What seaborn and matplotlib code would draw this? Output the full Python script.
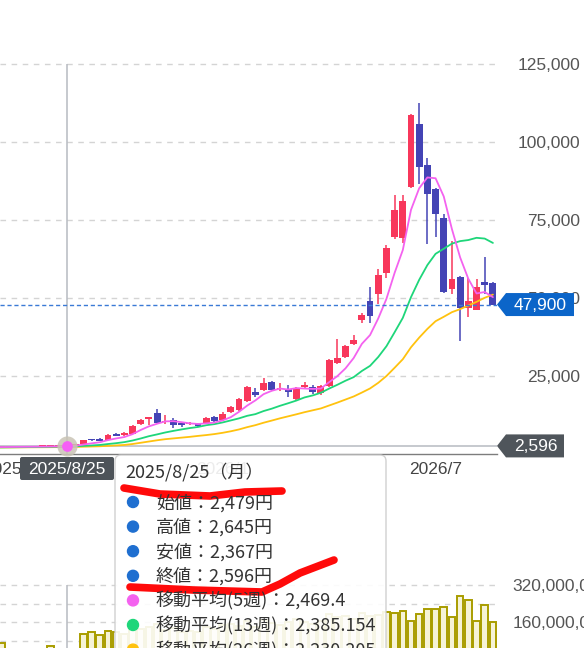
import numpy as np
import pandas as pd
import matplotlib
matplotlib.use("Agg")
import matplotlib.pyplot as plt
import seaborn as sns
from matplotlib.patches import FancyBboxPatch, Polygon, Circle

# weekly candles, week 0 = 2025/8/25
weeks = list(range(-9, 53))
opens = [2210, 2230, 2250, 2280, 2300, 2330, 2380, 2420, 2460,
         2479, 2600, 3200, 4600, 4800, 4500, 6400, 6000, 6400, 9600,
         11200, 13100, 10300, 10900, 9900, 9600, 9600, 9900, 11900, 10900,
         13500, 14100, 17000, 19900, 20500, 23100, 20800, 20800, 17600, 21500,
         21500, 19500, 21800, 29200, 31100, 35300, 42900, 49000, 51300, 58000,
         69500, 69200, 85600, 105800, 92600, 84900, 75600, 52900, 56700, 46800,
         46200, 55100, 54800]
highs = [2270, 2300, 2330, 2350, 2380, 2430, 2470, 2510, 2540,
         2645, 3300, 4600, 4800, 5000, 6300, 6600, 6900, 9200, 11100,
         12000, 14400, 12500, 11500, 10300, 10300, 9900, 11700, 12200, 13500,
         15400, 17900, 21800, 21100, 24400, 23400, 22800, 22100, 21500, 23100,
         22100, 22100, 30400, 36900, 35000, 38100, 45200, 53500, 59300, 67000,
         83000, 83000, 109000, 112500, 94900, 85200, 76900, 68300, 57000, 56400,
         56100, 63100, 55100]
lows = [2170, 2190, 2210, 2230, 2250, 2280, 2320, 2360, 2400,
        2367, 2550, 3150, 4300, 4100, 4400, 5700, 5900, 6300, 9300,
        9300, 9900, 9600, 8300, 8600, 9300, 8500, 9600, 10300, 10600,
        13100, 13800, 16700, 18300, 20200, 20200, 20200, 18300, 17300, 21200,
        19200, 18900, 21500, 28800, 30800, 35000, 42000, 42000, 48100, 56400,
        69000, 67600, 85300, 86500, 67300, 69500, 51600, 51300, 36200, 43900,
        46000, 51300, 47600]
closes = [2230, 2250, 2280, 2300, 2330, 2380, 2420, 2460, 2491,
          2596, 3200, 4400, 4400, 4200, 6100, 5800, 6700, 9000, 10900,
          11900, 10000, 10500, 9300, 9300, 10000, 9000, 11500, 10600, 12800,
          15100, 17600, 21500, 18900, 22800, 20500, 21200, 19900, 21200, 22100,
          19900, 21800, 30100, 30800, 34600, 36500, 44500, 44200, 57400, 66000,
          78200, 81100, 108600, 92000, 83300, 76900, 51900, 56100, 46800, 49000,
          53500, 54200, 47900]
ma5 = [2200, 2225, 2250, 2280, 2310, 2340, 2370, 2400, 2435,
       2469.4, 2633, 3029, 3417, 3759, 4460, 4980, 5440, 6360, 7700,
       8860, 9700, 10460, 10520, 10200, 9820, 9620, 9820, 10080, 10780,
       11800, 13520, 15520, 17180, 19180, 20260, 20980, 20660, 21120, 20980,
       20860, 20980, 23020, 24940, 27440, 30760, 35300, 38120, 43440, 49720,
       58060, 65380, 78260, 85180, 88640, 88380, 82540, 72040, 63000, 56140,
       51460, 51920, 50280]
ma13 = [2090, 2120, 2150, 2180, 2210, 2240, 2270, 2300, 2340,
        2385.154, 2460, 2600, 2740, 2901, 3197, 3467, 3806, 4319, 4974,
        5704, 6284, 6900, 7415, 7885, 8315, 8669, 9231, 9577, 10115,
        10762, 11423, 12238, 12777, 13762, 14531, 15446, 16262, 17123, 18131,
        18777, 19638, 20969, 22177, 23485, 24638, 26608, 28254, 31092, 34538,
        39023, 43631, 50285, 55831, 60562, 64162, 65785, 67438, 68231, 68577,
        69292, 69046, 67654]
ma26 = [2090, 2100, 2110, 2125, 2140, 2155, 2170, 2185, 2205,
        2230.205, 2270, 2340, 2410, 2480, 2620, 2750, 2900, 3200, 3600,
        4000, 4400, 4750, 5000, 5250, 5500, 5800, 6066, 6387, 6791,
        7284, 7871, 8606, 9240, 10023, 10715, 11431, 12073, 12719, 13400,
        14004, 14608, 15542, 16469, 17454, 18438, 19692, 21008, 22812, 24992,
        27642, 30377, 34208, 37304, 40100, 42565, 43981, 45462, 46435, 47592,
        48773, 50069, 51096]
# volume, millions
volume_m = [30, 69, 35, 25, 30, 20, 28, 56, 40,
            42, 45, 108, 117, 104, 121, 118, 110, 135, 128,
            140, 150, 125, 132, 118, 122, 115, 138, 128, 145,
            150, 142, 165, 140, 170, 155, 148, 160, 175, 158,
            150, 165, 195, 180, 188, 172, 200, 185, 190, 203,
            199, 207, 164, 194, 216, 216, 225, 181, 272, 255,
            164, 233, 160]

price_ticks = [25000, 50000, 75000, 100000, 125000]
date_ticks = [-7, 19, 45]
date_labels = ["2025/7", "2026/1", "2026/7"]
last_price = 47900
sel = 0  # hovered week (2025/8/25)
sel_label = "2025/8/25"

df = pd.DataFrame({"week": weeks, "open": opens, "high": highs, "low": lows,
                   "close": closes, "ma5": ma5, "ma13": ma13, "ma26": ma26,
                   "vol": np.array(volume_m) * 1e6})

sns.set_theme(style="white")
plt.rcParams['font.family'] = ['Liberation Sans', 'Noto Sans CJK JP', 'DejaVu Sans']
CJK = ['Noto Sans CJK JP', 'DejaVu Sans']

UP, DOWN = '#f8375b', '#4444b5'
C5, C13, C26 = '#f462ef', '#1ed67a', '#ffc20e'
GRID = '#d4d4d4'

W, H = 584, 648
fig = plt.figure(figsize=(W / 100, H / 100), dpi=100)

def frame(x0, y0, x1, y1):
    return [x0 / W, 1 - y1 / H, (x1 - x0) / W, (y1 - y0) / H]

XLIM = (-8.18, 52.5)

# price panel
ax = fig.add_axes(frame(0, 64, 497, 454))
ax.set_xlim(*XLIM)
ax.set_ylim(0, 125000)
for v in price_ticks:
    ax.axhline(v, color=GRID, lw=1, ls=(0, (4, 4)), zorder=0, clip_on=False)

ax.axvline(sel, color='#b6bac1', lw=1.1, zorder=1)
ax.axhline(df.close[df.week == sel].iloc[0], color='#b6bac1', lw=1.1, zorder=1)

up = df.close >= df.open
cols = np.where(up, UP, DOWN)
body_lo = df[['open', 'close']].min(axis=1)
body_h = (df.close - df.open).abs().clip(lower=350)
ax.vlines(df.week, df.low, df.high, colors=cols, lw=1.1, zorder=2)
ax.bar(df.week, body_h, bottom=body_lo, width=0.84, color=cols, lw=0, zorder=3)

sns.lineplot(data=df, x='week', y='ma26', color=C26, lw=1.3, ax=ax, zorder=4)
sns.lineplot(data=df, x='week', y='ma13', color=C13, lw=1.3, ax=ax, zorder=4)
sns.lineplot(data=df, x='week', y='ma5', color=C5, lw=1.3, ax=ax, zorder=4)

ax.axhline(last_price, color='#3a7ad6', lw=1, ls=(0, (3, 2)), zorder=5)
sel_close = df.close[df.week == sel].iloc[0]
ax.scatter([sel], [sel_close], s=210, color='#c9c4b5', alpha=0.85, lw=0, zorder=6, clip_on=False)
ax.scatter([sel], [sel_close], s=60, color='#f55ff5', lw=0, zorder=7, clip_on=False)

ax.set_xlabel('')
ax.set_ylabel('')
for s in ['top', 'left', 'right']:
    ax.spines[s].set_visible(False)
ax.spines['bottom'].set_color('#7d7d7d')
ax.spines['bottom'].set_linewidth(1)
ax.set_xticks(date_ticks)
ax.set_xticklabels(date_labels)
ax.tick_params(axis='x', length=0, pad=6, labelsize=12.5, labelcolor='#444444')
ax.yaxis.tick_right()
ax.set_yticks(price_ticks)
ax.set_yticklabels([f"{v:,}" for v in price_ticks])
ax.tick_params(axis='y', length=0, pad=60, labelsize=12.5, labelcolor='#555555')
for lab in ax.get_yticklabels():
    lab.set_horizontalalignment('right')

# volume panel
vax = fig.add_axes(frame(0, 585, 497, 659))
sns.barplot(data=df, x='week', y='vol', native_scale=True, width=0.8,
            color='#f6f3d6', edgecolor='#a99d00', linewidth=1.4, saturation=1,
            errorbar=None, ax=vax, zorder=2)
vax.set_xlim(*XLIM)
vax.set_ylim(0, 320e6)
for v in [80e6, 160e6, 240e6, 320e6]:
    vax.axhline(v, color=GRID, lw=1, ls=(0, (4, 4)), zorder=0, clip_on=False)
vax.axvline(sel, color='#b6bac1', lw=1.1, zorder=3)
vax.set_xlabel('')
vax.set_ylabel('')
for s in vax.spines.values():
    s.set_visible(False)
vax.set_xticks([])
vax.yaxis.tick_right()
vax.set_yticks([160e6, 320e6])
vax.set_yticklabels([f"{int(v):,}" for v in [160e6, 320e6]])
vax.tick_params(axis='y', length=0, pad=11, labelsize=12.5, labelcolor='#555555')

# overlay in pixel units
ov = fig.add_axes([0, 0, 1, 1])
ov.set_xlim(0, W)
ov.set_ylim(H, 0)
ov.axis('off')
ov.set_zorder(10)

def py(price):
    return H - ax.transData.transform((0, price))[1]

def px(week):
    return ax.transData.transform((week, 0))[0]

def price_tag(price, text, color, width):
    y = py(price)
    x0 = 497
    ov.add_patch(Polygon([(x0, y), (x0 + 9, y - 11.5), (x0 + width, y - 11.5),
                          (x0 + width, y + 11.5), (x0 + 9, y + 11.5)],
                         closed=True, fc=color, ec='none'))
    ov.text(x0 + 5 + width / 2, y + 0.5, text, color='white', ha='center', va='center', fontsize=12.5)

price_tag(last_price, f"{last_price:,}", '#0b65c9', 77)
price_tag(sel_close, f"{sel_close:,}", '#4f555b', 67)

cx = px(sel)
ov.add_patch(FancyBboxPatch((cx - 47, 457), 94, 23, boxstyle='round,pad=0,rounding_size=2',
                            fc='#4d5359', ec='none'))
ov.text(cx, 469, sel_label, color='white', ha='center', va='center', fontsize=12.5)

# tooltip
r = df[df.week == sel].iloc[0]
tip_rows = [f"始値：{int(r.open):,}円", f"高値：{int(r.high):,}円",
            f"安値：{int(r.low):,}円", f"終値：{int(r.close):,}円",
            f"移動平均(5週)：{r.ma5:,.1f}", f"移動平均(13週)：{r.ma13:,.3f}",
            f"移動平均(26週)：{r.ma26:,.3f}"]
tip_dots = ['#1f6fd0', '#1f6fd0', '#1f6fd0', '#1f6fd0', C5, C13, C26]

ov.add_patch(FancyBboxPatch((115, 455), 271, 230, boxstyle='round,pad=0,rounding_size=6',
                            fc='white', alpha=0.9, ec='#cccccc', lw=1))
ov.text(125, 472, "2025/8/25（月）", fontsize=13, color='#333333', va='center', family=CJK)
for i, (t, c) in enumerate(zip(tip_rows, tip_dots)):
    y = 503 + 24.6 * i
    ov.add_patch(Circle((133, y - 1), 5.5, color=c))
    ov.text(156, y, t, fontsize=13, color='#333333', va='center', family=CJK)

# red hand-drawn marks
ov.plot([124, 160, 210, 245, 282], [488, 494, 496, 492, 491], color='#ff0a0a', lw=5.5,
        solid_capstyle='round', solid_joinstyle='round')
ov.plot([130, 193, 262, 280, 300, 334], [587, 590, 592, 584, 573, 560], color='#ff0a0a', lw=5.5,
        solid_capstyle='round', solid_joinstyle='round')

fig.savefig("out.png", dpi=100)
